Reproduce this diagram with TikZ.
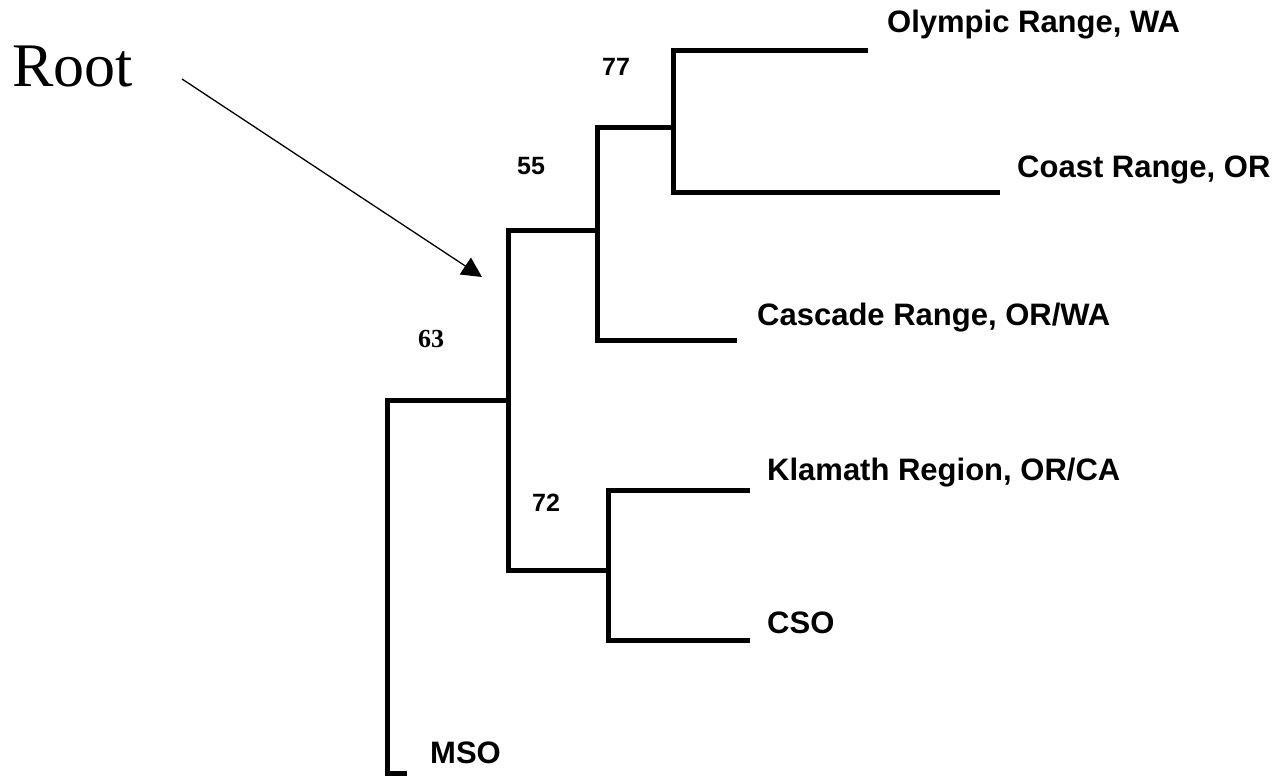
\documentclass[tikz,border=0pt]{standalone}
\usepackage{fontspec}
\setmainfont{Liberation Serif}
\setsansfont{Liberation Sans}
\usetikzlibrary{arrows.meta,positioning}

\begin{document}
\begin{tikzpicture}[
    x=1pt, y=-1pt,
    branch/.style={line width=5pt, line join=miter},
    leaf/.style={anchor=base west, inner sep=0pt, font=\sffamily\bfseries\fontsize{31}{36}\selectfont},
    support/.style={anchor=base west, inner sep=0pt, font=\sffamily\bfseries\fontsize{25}{30}\selectfont},
    pointer/.style={-{Triangle[length=20pt,width=20pt]}, line width=1.3pt},
]
    \useasboundingbox (0,0) rectangle (1283,776);

    % Branch points
    \coordinate (rt) at (387,400);
    \coordinate (n63) at (508,400);
    \coordinate (n55) at (597,230);
    \coordinate (n77) at (673,127);
    \coordinate (n72) at (608,570);

    % Tips
    \coordinate (olyEnd) at (868,51);
    \coordinate (coastEnd) at (1000,192);
    \coordinate (cascEnd) at (737,340);
    \coordinate (klamEnd) at (750,490);
    \coordinate (csoEnd) at (750,640);
    \coordinate (msoEnd) at (407,773);

    % Branches
    \draw[branch] (olyEnd) -| (n77) |- (coastEnd);
    \draw[branch] (n77) -| (n55) |- (cascEnd);
    \draw[branch] (n55) -| (n63) |- (n72);
    \draw[branch] (klamEnd) -| (n72) |- (csoEnd);
    \draw[branch] (n63) -- (rt) |- (msoEnd);

    % Taxa
    \node[leaf] (oly) at (887,33) {Olympic Range, WA};
    \node[leaf] (coast) at (1017,177) {Coast Range, OR};
    \node[leaf] (casc) at (757,325) {Cascade Range, OR/WA};
    \node[leaf] (klam) at (767,480) {Klamath Region, OR/CA};
    \node[leaf] (cso) at (767,633) {CSO};
    \node[leaf] (mso) at (430,763) {MSO};

    % Bootstrap values
    \node[support] (b77) at (602,76) {77};
    \node[support] (b55) at (517,174) {55};
    \node[anchor=base west, inner sep=0pt, font=\rmfamily\bfseries\fontsize{26}{30}\selectfont] (b63) at (418,347) {63};
    \node[support] (b72) at (532,511) {72};

    % Root label
    \node[anchor=base west, inner sep=0pt, font=\rmfamily\fontsize{62}{70}\selectfont] (rootlbl) at (12,87) {Root};
    \coordinate (tail) at (182,79);
    \coordinate (rootpt) at (482,277);
    \draw[pointer] (tail) -- (rootpt);
\end{tikzpicture}
\end{document}
